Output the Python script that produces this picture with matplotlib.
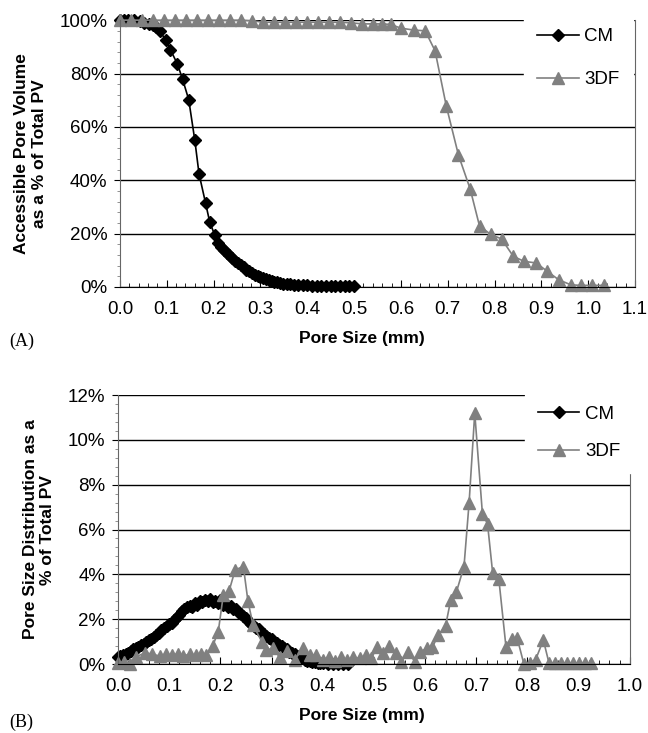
import matplotlib
matplotlib.use("Agg")
import matplotlib.pyplot as plt
from matplotlib.ticker import MultipleLocator, AutoMinorLocator, PercentFormatter

# panel A: accessible pore volume (%)
cm_a_x = [0.000, 0.008, 0.018, 0.030, 0.042, 0.052, 0.062, 0.070, 0.078, 0.085,
          0.098, 0.108, 0.123, 0.134, 0.147, 0.160, 0.169, 0.183, 0.192, 0.203,
          0.210, 0.216, 0.222, 0.228, 0.234, 0.240, 0.246, 0.252, 0.258, 0.264,
          0.270, 0.276, 0.282, 0.288, 0.294, 0.300, 0.306, 0.312, 0.318, 0.324,
          0.330, 0.336, 0.342, 0.348, 0.356, 0.364, 0.372, 0.380, 0.390, 0.400,
          0.410, 0.420, 0.430, 0.440, 0.450, 0.460, 0.470, 0.480, 0.490, 0.500]
cm_a_y = [100.0, 100.0, 100.0, 100.0, 99.5, 99.0, 98.5, 98.0, 97.5, 96.0,
          92.5, 88.9, 83.5, 77.8, 70.2, 55.0, 42.4, 31.4, 24.2, 19.3,
          16.5, 15.0, 13.8, 12.8, 11.8, 10.9, 9.8, 8.9, 8.1, 7.3,
          6.5, 5.8, 5.2, 4.6, 4.0, 3.6, 3.2, 2.8, 2.5, 2.2,
          1.9, 1.7, 1.5, 1.3, 1.1, 1.0, 0.9, 0.8, 0.7, 0.6,
          0.5, 0.5, 0.4, 0.4, 0.3, 0.3, 0.2, 0.2, 0.2, 0.2]

tdf_a_x = [0.000, 0.024, 0.047, 0.071, 0.094, 0.118, 0.141, 0.165, 0.188, 0.212,
           0.235, 0.259, 0.282, 0.306, 0.329, 0.353, 0.376, 0.400, 0.423, 0.447,
           0.470, 0.494, 0.517, 0.541, 0.560, 0.578, 0.600, 0.627, 0.652, 0.673,
           0.697, 0.723, 0.748, 0.768, 0.792, 0.815, 0.840, 0.863, 0.889, 0.913,
           0.937, 0.963, 0.984, 1.008, 1.034]
tdf_a_y = [100.0, 100.0, 100.0, 100.0, 100.0, 100.0, 100.0, 100.0, 100.0, 100.0,
           100.0, 100.0, 99.8, 99.2, 99.2, 99.2, 99.2, 99.2, 99.2, 99.2,
           99.2, 99.0, 98.6, 98.6, 98.6, 98.4, 97.0, 96.3, 96.0, 88.5,
           67.8, 49.4, 36.7, 22.8, 19.7, 18.0, 11.5, 9.6, 9.0, 5.8,
           2.7, 0.8, 0.6, 0.6, 0.6]

# panel B: pore size distribution (%)
cm_b_x = [0.000, 0.005, 0.010, 0.015, 0.020, 0.025, 0.030, 0.035, 0.040, 0.045,
          0.050, 0.055, 0.060, 0.065, 0.070, 0.075, 0.080, 0.085, 0.090, 0.095,
          0.100, 0.105, 0.110, 0.115, 0.120, 0.125, 0.130, 0.135, 0.140, 0.145,
          0.150, 0.155, 0.160, 0.165, 0.170, 0.175, 0.180, 0.185, 0.190, 0.195,
          0.200, 0.205, 0.210, 0.215, 0.220, 0.225, 0.230, 0.235, 0.240, 0.245,
          0.250, 0.255, 0.260, 0.265, 0.270, 0.275, 0.280, 0.285, 0.290, 0.295,
          0.300, 0.305, 0.310, 0.315, 0.320, 0.325, 0.330, 0.335, 0.340, 0.345,
          0.350, 0.355, 0.360, 0.365, 0.370, 0.375, 0.380, 0.385, 0.390, 0.395,
          0.400, 0.410, 0.420, 0.430, 0.440, 0.450]
cm_b_y = [0.30, 0.35, 0.40, 0.45, 0.50, 0.60, 0.65, 0.70, 0.75, 0.85,
          0.90, 1.00, 1.05, 1.10, 1.20, 1.30, 1.40, 1.50, 1.60, 1.70,
          1.80, 1.85, 1.95, 2.10, 2.20, 2.35, 2.45, 2.55, 2.60, 2.55,
          2.70, 2.65, 2.80, 2.75, 2.85, 2.80, 2.90, 2.75, 2.80, 2.70,
          2.85, 2.65, 2.70, 2.55, 2.60, 2.45, 2.45, 2.30, 2.25, 2.15,
          2.05, 1.90, 1.80, 1.70, 1.60, 1.55, 1.45, 1.35, 1.25, 1.15,
          1.10, 1.00, 0.95, 0.85, 0.80, 0.70, 0.65, 0.55, 0.50, 0.45,
          0.35, 0.30, 0.25, 0.20, 0.15, 0.12, 0.10, 0.08, 0.05, 0.05,
          0.05, 0.02, 0.02, 0.00, 0.00, 0.00]

tdf_b_x = [0.000, 0.012, 0.023, 0.036, 0.053, 0.066, 0.082, 0.093, 0.105, 0.117,
           0.128, 0.140, 0.152, 0.163, 0.173, 0.185, 0.196, 0.206, 0.217, 0.229,
           0.245, 0.254, 0.264, 0.281, 0.290, 0.303, 0.316, 0.330, 0.345, 0.362,
           0.375, 0.387, 0.400, 0.412, 0.424, 0.436, 0.448, 0.460, 0.472, 0.484,
           0.495, 0.506, 0.518, 0.530, 0.543, 0.553, 0.567, 0.580, 0.591, 0.603,
           0.614, 0.626, 0.640, 0.650, 0.661, 0.676, 0.686, 0.697, 0.712, 0.722,
           0.732, 0.744, 0.758, 0.769, 0.780, 0.793, 0.805, 0.816, 0.831, 0.842,
           0.853, 0.865, 0.877, 0.888, 0.900, 0.912, 0.925]
tdf_b_y = [0.05, 0.10, 0.00, 0.33, 0.50, 0.45, 0.35, 0.45, 0.40, 0.45,
           0.35, 0.45, 0.40, 0.45, 0.40, 0.80, 1.45, 3.10, 3.25, 4.20,
           4.35, 2.80, 1.74, 1.00, 0.63, 0.70, 0.30, 0.60, 0.20, 0.70,
           0.40, 0.40, 0.20, 0.30, 0.15, 0.30, 0.20, 0.30, 0.25, 0.40,
           0.25, 0.75, 0.50, 0.80, 0.50, 0.10, 0.55, 0.10, 0.55, 0.70,
           0.74, 1.30, 1.70, 2.85, 3.20, 4.35, 7.20, 11.20, 6.70, 6.25,
           4.06, 3.80, 0.77, 1.10, 1.15, 0.00, 0.05, 0.20, 1.07, 0.05,
           0.05, 0.05, 0.05, 0.05, 0.05, 0.05, 0.05]

plt.rcParams['font.family'] = ['Liberation Sans', 'DejaVu Sans']

fig = plt.figure(figsize=(6.48, 7.33), dpi=100)
ax_a = fig.add_axes([0.185, 0.6085, 0.795, 0.364])
ax_b = fig.add_axes([0.182, 0.0941, 0.790, 0.367])

GRAY = '#808080'


def style_axes(ax, xmax, ymax, ystep, xlabel_x):
    ax.set_xlim(0, xmax)
    ax.set_ylim(0, ymax)
    ax.xaxis.set_major_locator(MultipleLocator(0.1))
    ax.xaxis.set_minor_locator(AutoMinorLocator(5))
    ax.yaxis.set_major_locator(MultipleLocator(ystep))
    ax.yaxis.set_minor_locator(AutoMinorLocator(5))
    ax.xaxis.set_major_formatter(matplotlib.ticker.FormatStrFormatter('%.1f'))
    ax.yaxis.set_major_formatter(PercentFormatter(decimals=0))
    ax.grid(axis='y', which='major', color='black', linewidth=1.0)
    ax.set_axisbelow(True)
    ax.tick_params(axis='x', which='both', direction='in', top=False, labelsize=13.5, pad=10)
    ax.tick_params(axis='x', which='major', length=5)
    ax.tick_params(axis='x', which='minor', length=3)
    ax.tick_params(axis='y', which='both', direction='out', right=False, labelsize=13.5, pad=5)
    ax.tick_params(axis='y', which='major', length=4)
    ax.tick_params(axis='y', which='minor', length=2, color=GRAY)
    ax.spines['top'].set_visible(False)
    ax.spines['left'].set_color('#666666')
    ax.spines['right'].set_color('#666666')
    ax.spines['bottom'].set_color('black')
    ax.set_xlabel('Pore Size (mm)', fontsize=12.5, fontweight='bold', labelpad=10)
    ax.xaxis.set_label_coords(xlabel_x, -0.165)


ax_a.plot(cm_a_x, cm_a_y, color='black', marker='D', markersize=6.5, linewidth=1.2,
          label='CM', clip_on=False)
ax_a.plot(tdf_a_x, tdf_a_y, color=GRAY, marker='^', markersize=8, linewidth=1.2,
          label='3DF', clip_on=False)
style_axes(ax_a, 1.1, 100, 20, 0.47)
ax_a.set_ylabel('Accessible Pore Volume\nas a % of Total PV', fontsize=12.5,
                fontweight='bold', labelpad=9)

ax_b.plot(cm_b_x, cm_b_y, color='black', marker='D', markersize=6.5, linewidth=1.2,
          label='CM', clip_on=False)
ax_b.plot(tdf_b_x, tdf_b_y, color=GRAY, marker='^', markersize=8, linewidth=1.2,
          label='3DF', clip_on=False)
style_axes(ax_b, 1.0, 12, 2, 0.477)
ax_b.set_ylabel('Pore Size Distribution as a\n% of Total PV', fontsize=12.5,
                fontweight='bold', labelpad=9)

for ax, anchor, spacing in ((ax_a, (0.785, 1.02), 1.4), (ax_b, (0.795, 1.01), 1.1)):
    leg = ax.legend(loc='upper left', bbox_to_anchor=anchor, frameon=True,
                    fontsize=13.5, handlelength=2.2, handletextpad=0.3,
                    labelspacing=spacing, borderaxespad=0, borderpad=0.7)
    leg.get_frame().set_facecolor('white')
    leg.get_frame().set_edgecolor('white')
    leg.get_frame().set_alpha(1)
    leg.set_zorder(10)

fig.text(0.015, 0.528, '(A)', fontsize=13, family='Liberation Serif')
fig.text(0.015, 0.008, '(B)', fontsize=13, family='Liberation Serif')

fig.savefig('out.png', dpi=100)
